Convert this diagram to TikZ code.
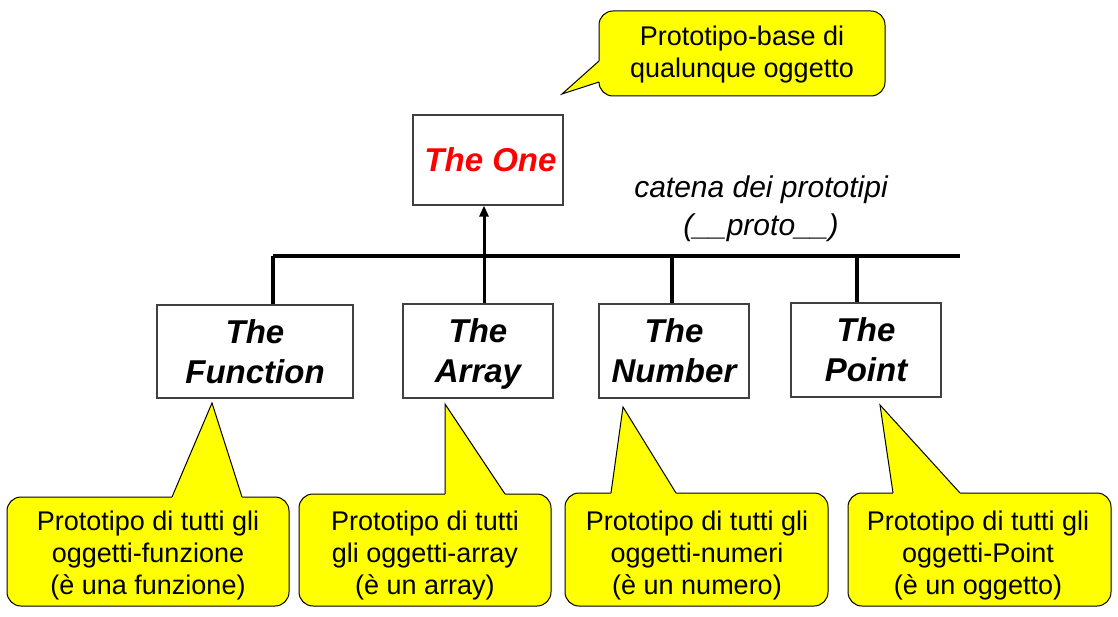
\documentclass[tikz,border=0pt]{standalone}
\usepackage{fontspec}
\setmainfont{Liberation Sans}
\usetikzlibrary{arrows.meta,calc}

\begin{document}
\begin{tikzpicture}[x=1pt,y=-1pt,
  scatola/.style={draw=bordoGrigio, line width=1.2pt, fill=white, align=center, inner sep=0pt,
    font=\fontsize{33}{40}\selectfont\bfseries\itshape},
  nota/.style={draw=black, line width=1pt, fill=giallo, rounded corners=14pt, inner sep=0pt},
  testoNota/.style={align=center, inner sep=0pt, font=\fontsize{27}{32}\selectfont},
  catena/.style={line width=3.5pt},
  punta/.style={draw=black, line width=1pt, line join=miter}]

% Colori
\definecolor{giallo}{HTML}{FFFF00}
\definecolor{bordoGrigio}{HTML}{404040}
\definecolor{rosso}{HTML}{FF0000}

% Area del disegno
\useasboundingbox (0,0) rectangle (1118,617);

% Prototipo radice
\node[scatola, minimum width=150, minimum height=90, text=rosso] (one) at (488,160) {\hspace*{5pt}The One};

% Prototipi derivati
\node[scatola, minimum width=196, minimum height=93] (fun) at (255,351.5) {The\\Function};
\node[scatola, minimum width=150, minimum height=94] (arr) at (478,351) {The\\\raisebox{0pt}[\height][0pt]{Array}};
\node[scatola, minimum width=150, minimum height=94] (num) at (674,351) {The\\Number};
\node[scatola, minimum width=150, minimum height=94] (pnt) at (866,350) {The\\Point};

% Catena dei prototipi
\coordinate (barL) at (273,256);
\coordinate (barR) at (960,256);
\coordinate (su) at (484,256);
\coordinate (gNum) at (672,256);
\coordinate (gPnt) at (857,256);

\draw[catena] (barL) -- (barR);
\draw[catena] (barL) -- (barL |- fun.north);
\draw[catena] (gNum) -- (gNum |- num.north);
\draw[catena] (gPnt) -- (gPnt |- pnt.north);
\draw[line width=3pt, -{Triangle[length=11pt,width=9pt]}] (su |- arr.north) -- (su |- one.south);

\node[align=center, inner sep=0pt, font=\fontsize{30}{38}\selectfont\itshape] (lblCatena) at (761,209)
  {catena dei prototipi\\(\_\_proto\_\_)};

% Fumetto in alto
\node[nota, minimum width=286, minimum height=85] (nBase) at (742,53.5) {};
\fill[giallo] (599,61) -- (562,94) -- (599,82) -- (601,82) -- (601,61) -- cycle;
\draw[punta] (599,61) -- (562,94) -- (599,82);
\node[testoNota] (tBase) at (742,55) {Prototipo-base di\\qualunque oggetto};

% Fumetto Function
\node[nota, minimum width=282, minimum height=109] (nFun) at (148,551.5) {};
\fill[giallo] (172,497) -- (212,403) -- (242,497) -- (242,499) -- (172,499) -- cycle;
\draw[punta] (172,497) -- (212,403) -- (242,497);
\node[testoNota] (tFun) at (148,556) {Prototipo di tutti gli\\oggetti-funzione\\(è una funzione)};

% Fumetto Array
\node[nota, minimum width=252, minimum height=112] (nArr) at (425,550) {};
\fill[giallo] (445,494) -- (445,404) -- (505,494) -- (505,496) -- (445,496) -- cycle;
\draw[punta] (445,494) -- (445,404) -- (505,494);
\node[testoNota] (tArr) at (425,556) {Prototipo di tutti\\gli oggetti-array\\(è un array)};

% Fumetto Number
\node[nota, minimum width=263, minimum height=113] (nNum) at (696.5,549.5) {};
\fill[giallo] (611,493) -- (623,407) -- (676,493) -- (676,495) -- (611,495) -- cycle;
\draw[punta] (611,493) -- (623,407) -- (676,493);
\node[testoNota] (tNum) at (697,556) {Prototipo di tutti gli\\oggetti-numeri\\(è un numero)};

% Fumetto Point
\node[nota, minimum width=263, minimum height=113] (nPnt) at (979.5,549.5) {};
\fill[giallo] (893,493) -- (880,405) -- (960,493) -- (960,495) -- (893,495) -- cycle;
\draw[punta] (893,493) -- (880,405) -- (960,493);
\node[testoNota] (tPnt) at (978,556) {Prototipo di tutti gli\\oggetti-Point\\(è un oggetto)};

\end{tikzpicture}
\end{document}
